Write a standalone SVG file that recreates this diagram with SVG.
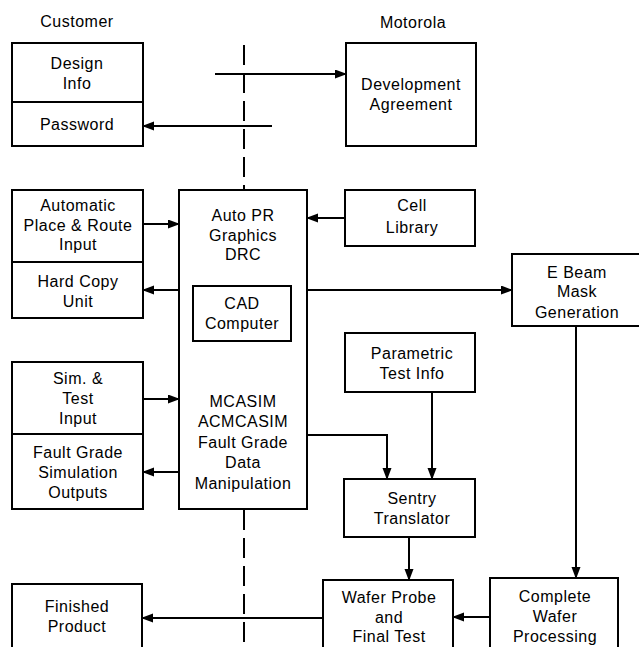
<svg xmlns="http://www.w3.org/2000/svg" width="639" height="647" viewBox="0 0 639 647">
<style>
.box{fill:#fff;stroke:#000;stroke-width:2}
.div{stroke:#000;stroke-width:2}
.t{font-family:"Liberation Sans",Arial,sans-serif;font-size:16px;letter-spacing:0.5px;fill:#000;text-anchor:middle}
.c{fill:none;stroke:#000;stroke-width:2}
.dash{fill:none;stroke:#000;stroke-width:2;stroke-dasharray:20 8}
</style>
<defs>
<marker id="ah" markerUnits="userSpaceOnUse" markerWidth="12" markerHeight="10" refX="11" refY="4.5" orient="auto">
<path d="M0,0 L12,4.5 L0,9 z" fill="#000"/>
</marker>
</defs>
<rect width="639" height="647" fill="#fff"/>
<g id="divider">
<line class="dash" x1="244" y1="45" x2="244" y2="190"/>
<line class="dash" x1="244" y1="510" x2="244" y2="647"/>
</g>
<g id="labels">
<text class="t" x="77" y="27">Customer</text>
<text class="t" x="413" y="28">Motorola</text>
</g>
<g id="design-info">
<rect class="box" x="12" y="43" width="131" height="103"/>
<line class="div" x1="12" y1="102" x2="143" y2="102"/>
<text class="t" x="77" y="69">Design</text>
<text class="t" x="77" y="89">Info</text>
<text class="t" x="77" y="130">Password</text>
</g>
<g id="dev-agreement">
<rect class="box" x="346" y="43" width="130" height="103"/>
<text class="t" x="411" y="90">Development</text>
<text class="t" x="411" y="110">Agreement</text>
</g>
<g id="apr-input">
<rect class="box" x="12" y="190" width="131" height="128"/>
<line class="div" x1="12" y1="262" x2="143" y2="262"/>
<text class="t" x="78" y="211">Automatic</text>
<text class="t" x="78" y="231">Place &amp; Route</text>
<text class="t" x="78" y="250">Input</text>
<text class="t" x="78" y="287">Hard Copy</text>
<text class="t" x="78" y="307">Unit</text>
</g>
<g id="cad-main">
<rect class="box" x="179" y="190" width="128" height="319"/>
<text class="t" x="243" y="221">Auto PR</text>
<text class="t" x="243" y="241">Graphics</text>
<text class="t" x="243" y="260">DRC</text>
<text class="t" x="243" y="407">MCASIM</text>
<text class="t" x="243" y="427">ACMCASIM</text>
<text class="t" x="243" y="448">Fault Grade</text>
<text class="t" x="243" y="468">Data</text>
<text class="t" x="243" y="489">Manipulation</text>
</g>
<g id="cad-computer">
<rect class="box" x="193" y="286" width="98" height="55"/>
<text class="t" x="242" y="309">CAD</text>
<text class="t" x="242" y="329">Computer</text>
</g>
<g id="cell-library">
<rect class="box" x="345" y="190" width="130" height="56"/>
<text class="t" x="412" y="211">Cell</text>
<text class="t" x="412" y="233">Library</text>
</g>
<g id="ebeam">
<rect class="box" x="512" y="254" width="130" height="72"/>
<text class="t" x="577" y="278">E Beam</text>
<text class="t" x="577" y="297">Mask</text>
<text class="t" x="577" y="318">Generation</text>
</g>
<g id="parametric">
<rect class="box" x="345" y="333" width="130" height="59"/>
<text class="t" x="412" y="359">Parametric</text>
<text class="t" x="412" y="379">Test Info</text>
</g>
<g id="sim-input">
<rect class="box" x="12" y="362" width="131" height="147"/>
<line class="div" x1="12" y1="434" x2="143" y2="434"/>
<text class="t" x="78" y="384">Sim. &amp;</text>
<text class="t" x="78" y="404">Test</text>
<text class="t" x="78" y="424">Input</text>
<text class="t" x="78" y="458">Fault Grade</text>
<text class="t" x="78" y="478">Simulation</text>
<text class="t" x="78" y="498">Outputs</text>
</g>
<g id="sentry">
<rect class="box" x="344" y="479" width="131" height="58"/>
<text class="t" x="412" y="504">Sentry</text>
<text class="t" x="412" y="524">Translator</text>
</g>
<g id="finished">
<rect class="box" x="12" y="584" width="130" height="70"/>
<text class="t" x="77" y="612">Finished</text>
<text class="t" x="77" y="632">Product</text>
</g>
<g id="wafer-probe">
<rect class="box" x="323" y="580" width="130" height="74"/>
<text class="t" x="389" y="603">Wafer Probe</text>
<text class="t" x="389" y="623">and</text>
<text class="t" x="389" y="642">Final Test</text>
</g>
<g id="complete-wafer">
<rect class="box" x="490" y="578" width="128" height="76"/>
<text class="t" x="555" y="602">Complete</text>
<text class="t" x="555" y="622">Wafer</text>
<text class="t" x="555" y="642">Processing</text>
</g>
<g id="connectors">
<path class="c" d="M215,74 H346" marker-end="url(#ah)"/>
<path class="c" d="M272,126 H143" marker-end="url(#ah)"/>
<path class="c" d="M143,224 H179" marker-end="url(#ah)"/>
<path class="c" d="M179,290 H143" marker-end="url(#ah)"/>
<path class="c" d="M345,218 H307" marker-end="url(#ah)"/>
<path class="c" d="M307,290 H512" marker-end="url(#ah)"/>
<path class="c" d="M143,399 H179" marker-end="url(#ah)"/>
<path class="c" d="M179,472 H143" marker-end="url(#ah)"/>
<path class="c" d="M307,435 H387 V479" marker-end="url(#ah)"/>
<path class="c" d="M432,392 V479" marker-end="url(#ah)"/>
<path class="c" d="M576,326 V578" marker-end="url(#ah)"/>
<path class="c" d="M409,537 V580" marker-end="url(#ah)"/>
<path class="c" d="M490,617 H453" marker-end="url(#ah)"/>
<path class="c" d="M323,618 H142" marker-end="url(#ah)"/>
</g>
</svg>
